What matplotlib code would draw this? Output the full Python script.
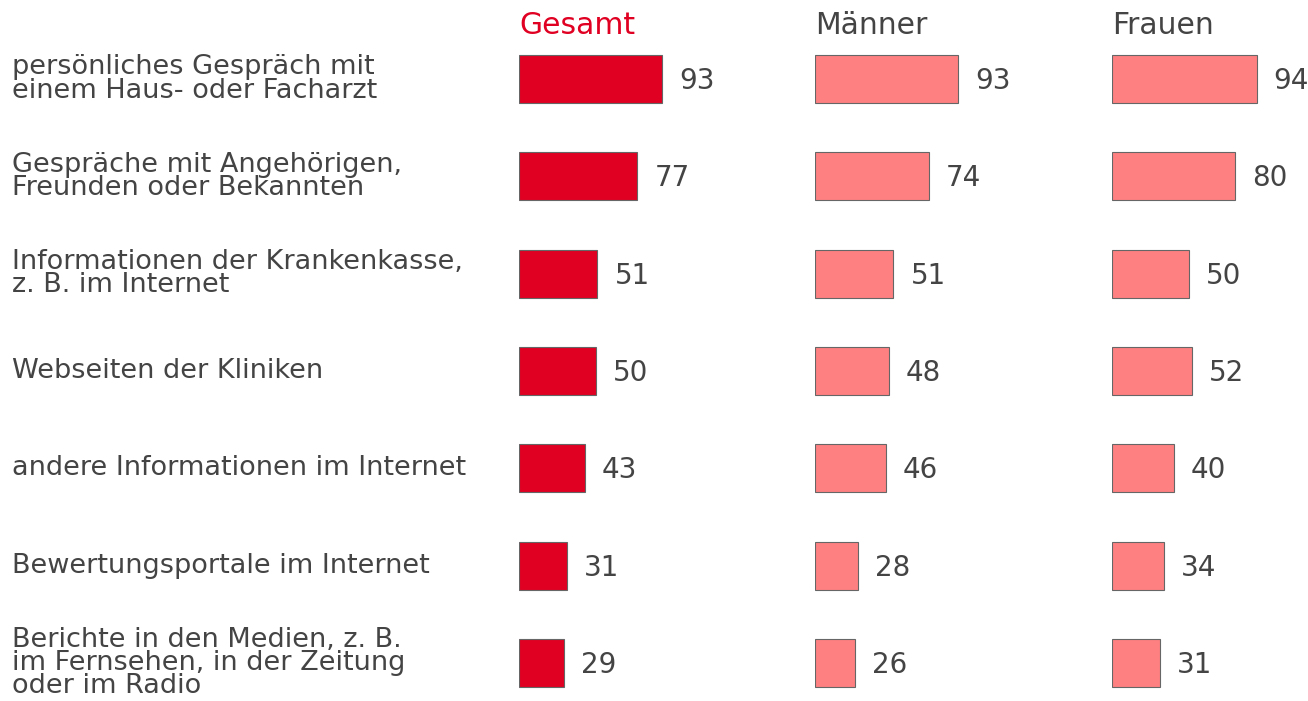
import matplotlib
matplotlib.use("Agg")
import matplotlib.pyplot as plt

categories = [
    "persönliches Gespräch mit\neinem Haus- oder Facharzt",
    "Gespräche mit Angehörigen,\nFreunden oder Bekannten",
    "Informationen der Krankenkasse,\nz. B. im Internet",
    "Webseiten der Kliniken",
    "andere Informationen im Internet",
    "Bewertungsportale im Internet",
    "Berichte in den Medien, z. B.\nim Fernsehen, in der Zeitung\noder im Radio",
]
gesamt = [93, 77, 51, 50, 43, 31, 29]
maenner = [93, 74, 51, 48, 46, 28, 26]
frauen = [94, 80, 50, 52, 40, 34, 31]
panel_titles = ["Gesamt", "Männer", "Frauen"]

RED = "#e00022"
PINK = "#ff8080"
TEXT = "#444444"

W, H = 1308, 701
fig = plt.figure(figsize=(W / 100, H / 100), dpi=100)
plt.rcParams["font.family"] = ["DejaVu Sans"]

# pixel geometry
row0, pitch = 79, 97.33
ax_top, ax_bot = 30, 700
px_per_unit = 143 / 93
panel_left = [519, 815, 1112]
ax_w = 100 * px_per_unit
y_lo = (ax_bot - row0) / pitch
y_hi = -(row0 - ax_top) / pitch

series = [gesamt, maenner, frauen]
colors = [RED, PINK, PINK]
title_colors = [RED, TEXT, TEXT]

for i, (vals, col) in enumerate(zip(series, colors)):
    ax = fig.add_axes([panel_left[i] / W, 1 - ax_bot / H, ax_w / W, (ax_bot - ax_top) / H])
    ax.set_xlim(0, 100)
    ax.set_ylim(y_lo, y_hi)
    ax.axis("off")
    ypos = list(range(len(vals)))
    ax.barh(ypos, vals, height=0.495, color=col, edgecolor="#666666", linewidth=0.8)
    for y, v in zip(ypos, vals):
        ax.annotate(str(v), (v, y), xytext=(17, -2), textcoords="offset pixels",
                    ha="left", va="center", fontsize=20, color=TEXT)
    fig.text(panel_left[i] / W, 1 - 34 / H, panel_titles[i], ha="left", va="baseline",
             fontsize=21.5, color=title_colors[i])

    if i == 0:
        for y, lab in zip(ypos, categories):
            ax.annotate(lab, (0, y), xycoords=("figure fraction", "data"),
                        xytext=(12, 0), textcoords="offset pixels",
                        ha="left", va="center", fontsize=19.5, color=TEXT,
                        linespacing=0.85, annotation_clip=False)

fig.savefig("out.png", dpi=100)
